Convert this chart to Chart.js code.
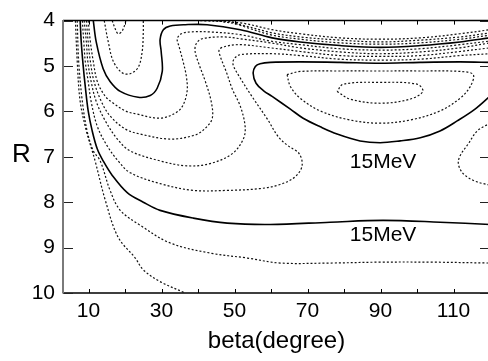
<!DOCTYPE html>
<html>
<head>
<meta charset="utf-8">
<script src="https://cdn.jsdelivr.net/npm/chart.js@4"></script>
<style>
  html, body { margin: 0; padding: 0; background: #fff; overflow: hidden; }
</style>
</head>
<body>
<canvas id="myChart" width="492" height="361"></canvas>
<script>
// axis ticks
const xTicks = [10, 20, 30, 40, 50, 60, 70, 80, 90, 100, 110];
const xLabeled = [10, 30, 50, 70, 90, 110];
const yTicks = [4, 5, 6, 7, 8, 9, 10];

// contour lines, [beta, R]
const solidLow = [[7.7,4.0],[8.0,4.47],[8.5,4.97],[9.1,5.45],[9.9,5.99],[11.0,6.43],[12.4,6.83],[14.0,7.09],[16.5,7.41],[20.6,7.79],[25.0,8.0],[29.6,8.18],[38.7,8.35],[48.0,8.46],[59.8,8.49],[76.2,8.44],[90.7,8.40],[106.3,8.44],[120,8.49]];
const solidTop = [[11.3,4.0],[12.1,4.47],[14.0,5.06],[15.9,5.34],[18.7,5.56],[23.6,5.69],[26.9,5.65],[28.8,5.49],[30.2,5.12],[29.9,4.68],[29.6,4.42],[30.5,4.20],[32.4,4.12],[36.5,4.09],[42.5,4.09],[51.6,4.20],[60.3,4.38],[68.0,4.47],[78.9,4.55],[89.9,4.59],[100.9,4.55],[111.8,4.47],[120,4.38]];
const solidLobe = [[120.6,4.92],[111.8,4.91],[100.9,4.92],[89.9,4.94],[78.9,4.92],[68.0,4.91],[59.8,4.92],[57.0,4.95],[55.7,5.01],[55.1,5.16],[55.9,5.38],[57.9,5.54],[60.3,5.67],[65.3,5.95],[68.8,6.15],[73.5,6.34],[78.1,6.50],[84.4,6.65],[89.9,6.69],[95.4,6.65],[100.9,6.58],[106.3,6.43],[111.0,6.21],[115.9,5.95],[120.6,5.62]];

const dotB1 = [[6.9,4.0],[7.3,4.90],[8.3,5.78],[9.6,6.43],[11.3,6.87],[13.2,7.09],[15.9,7.74],[18.7,8.18],[24.2,8.51],[32.4,8.90],[43.3,9.12],[53.5,9.23],[62.5,9.34],[76.2,9.34],[89.9,9.32],[103.6,9.32],[120,9.34]];
const dotB2 = [[6.4,4.0],[6.9,4.90],[7.7,5.78],[9.4,6.43],[11.0,6.87],[11.8,7.09],[14.6,7.96],[18.1,8.77],[22.8,9.23],[25.0,9.49],[29.6,9.75],[36.5,10.0]];
const dotD4 = [[8.3,4.0],[8.7,4.47],[9.1,4.90],[9.9,5.34],[10.7,5.78],[12.4,6.33],[15.1,6.76],[18.1,7.09],[21.4,7.35],[29.6,7.59],[38.7,7.74],[48.0,7.74],[57.0,7.70],[62.5,7.61],[66.6,7.44],[68.5,7.20],[67.7,6.93],[64.7,6.76],[62.0,6.56],[59.0,6.17],[55.1,5.71],[51.6,5.27],[49.6,4.97],[49.9,4.84],[51.6,4.75],[60.6,4.73],[68.0,4.77],[78.9,4.85],[89.9,4.87],[100.9,4.85],[111.8,4.77],[120,4.73]];
const dotRight = [[121,6.2],[119.5,6.28],[116.5,6.43],[114,6.72],[112,6.95],[111.3,7.12],[112.0,7.30],[113.5,7.43],[116,7.54],[118.1,7.59],[121,7.64]];
const dotD3 = [[8.8,4.0],[9.4,4.47],[9.8,4.90],[10.7,5.34],[12.1,5.78],[14.6,6.21],[17.9,6.61],[21.4,6.87],[29.6,7.09],[37.0,7.20],[43.3,7.15],[49.4,6.93],[52.4,6.61],[52.9,6.33],[51.6,5.89],[49.4,5.51],[47.7,5.12],[46.1,4.79],[45.8,4.64],[47.4,4.57],[51.6,4.53],[59.8,4.60],[68.0,4.68],[78.9,4.77],[89.9,4.79],[100.9,4.77],[111.8,4.68],[120,4.60]];
const dotD2 = [[9.4,4.0],[9.9,4.47],[10.5,4.90],[11.5,5.34],[13.5,5.78],[15.9,6.10],[20.1,6.39],[24.2,6.50],[32.4,6.61],[39.2,6.52],[42.0,6.37],[43.9,6.15],[43.6,5.78],[42.0,5.34],[40.3,4.97],[39.2,4.68],[39.5,4.51],[41.1,4.40],[46.9,4.36],[51.6,4.40],[59.8,4.49],[68.0,4.60],[78.9,4.69],[89.9,4.73],[100.9,4.69],[111.8,4.60],[120,4.49]];
const dotD1 = [[9.9,4.0],[10.5,4.47],[11.3,4.90],[12.4,5.34],[14.6,5.67],[16.8,5.82],[20.1,5.99],[23.3,6.06],[29.6,6.15],[33.7,6.04],[35.7,5.89],[37.0,5.56],[36.8,5.23],[35.9,4.90],[34.8,4.57],[34.3,4.40],[35.4,4.29],[37.9,4.25],[43.3,4.25],[51.6,4.31],[59.8,4.45],[68.0,4.53],[78.9,4.62],[89.9,4.65],[100.9,4.62],[111.8,4.53],[120,4.45]];
const dotU1 = [[14.3,4.0],[15.4,4.47],[16.8,4.90],[19.2,5.15],[21.4,5.17],[23.6,5.03],[24.7,4.68],[25.0,4.25],[25.0,4.0]];
const dotU2 = [[16.5,4.0],[17.3,4.18],[18.1,4.29],[19.2,4.23],[20.3,4.0]];
const dotE1 = [[40.6,4.0],[51.6,4.05],[60.3,4.20],[68.0,4.29],[78.9,4.38],[89.9,4.41],[100.9,4.38],[111.8,4.29],[120,4.20]];
const dotE2 = [[44.7,4.0],[51.6,4.09],[60.3,4.27],[68.0,4.36],[78.9,4.43],[89.9,4.47],[100.9,4.43],[111.8,4.36],[120,4.27]];
const dotE3 = [[48.3,4.0],[52.9,4.14],[60.3,4.32],[68.0,4.41],[78.9,4.49],[89.9,4.52],[100.9,4.49],[111.8,4.41],[120,4.32]];
const dotOval = [[64.4,5.19],[65.3,5.45],[68.0,5.71],[73.5,5.99],[81.7,6.19],[89.9,6.26],[98.1,6.19],[106.3,5.99],[111.8,5.71],[114.6,5.45],[115.4,5.19],[111.8,5.12],[100.9,5.11],[89.9,5.11],[78.9,5.11],[68.0,5.12],[64.4,5.19]];
const dotInner = [[78.1,5.56],[81.7,5.73],[89.9,5.82],[98.1,5.73],[101.6,5.56],[100.0,5.40],[89.9,5.36],[79.8,5.40],[78.1,5.56]];

// contour labels
const noteText = ['15MeV', '15MeV'];
const noteBeta = [90.7, 90.7];
const noteR = [7.24, 8.86];

const FONT = '"Liberation Sans", Arial, Helvetica, sans-serif';

const solids = [solidLow, solidTop, solidLobe];
const dots = [dotB1, dotB2, dotD4, dotRight, dotD3, dotD2, dotD1, dotU1, dotU2, dotE1, dotE2, dotE3, dotOval, dotInner];

const toPts = arr => arr.map(p => ({x: p[0], y: p[1]}));
const datasets = [];
solids.forEach(s => datasets.push({
  data: toPts(s), showLine: true, pointRadius: 0, borderColor: '#000',
  borderWidth: 1.6, tension: 0.35, fill: false
}));
dots.forEach(s => datasets.push({
  data: toPts(s), showLine: true, pointRadius: 0, borderColor: '#111',
  borderWidth: 1.2, borderDash: [2, 2], tension: 0.35, fill: false
}));

const framePlugin = {
  id: 'frame',
  afterDatasetsDraw(chart) {
    const {ctx, chartArea: a, scales: {x, y}} = chart;
    ctx.save();
    // contour labels
    ctx.fillStyle = '#000';
    ctx.font = '21px ' + FONT;
    ctx.textAlign = 'center';
    ctx.textBaseline = 'alphabetic';
    for (let i = 0; i < noteText.length; i++) {
      ctx.fillText(noteText[i], x.getPixelForValue(noteBeta[i]), y.getPixelForValue(noteR[i]));
    }
    // R title (horizontal)
    ctx.font = '26px ' + FONT;
    ctx.fillText('R', 21.5, y.getPixelForValue(7) + 5);

    // box
    ctx.strokeStyle = '#000';
    ctx.lineWidth = 1.5;
    ctx.beginPath();
    ctx.moveTo(a.left, a.top); ctx.lineTo(a.right, a.top);
    ctx.moveTo(a.left, a.bottom); ctx.lineTo(a.right, a.bottom);
    ctx.moveTo(a.right, a.top); ctx.lineTo(a.right, a.bottom);
    ctx.stroke();
    // x ticks, bottom and top
    ctx.lineWidth = 1;
    ctx.beginPath();
    xTicks.forEach(v => {
      const px = Math.round(x.getPixelForValue(v)) + 0.5;
      ctx.moveTo(px, a.bottom); ctx.lineTo(px, a.bottom - 4);
      ctx.moveTo(px, a.top); ctx.lineTo(px, a.top + 4);
    });
    ctx.stroke();
    // y ticks, left and right
    ctx.strokeStyle = '#222';
    ctx.beginPath();
    yTicks.forEach(v => {
      const py = Math.round(y.getPixelForValue(v)) + 0.5;
      ctx.moveTo(a.left, py); ctx.lineTo(a.left + 10, py);
      ctx.moveTo(a.right, py); ctx.lineTo(a.right - 10, py);
    });
    ctx.stroke();
    // left axis is grey
    ctx.strokeStyle = '#7a7a7a';
    ctx.lineWidth = 2;
    ctx.beginPath();
    ctx.moveTo(a.left, a.top - 0.5); ctx.lineTo(a.left, a.bottom + 0.5);
    ctx.stroke();
    ctx.restore();
  }
};

new Chart('myChart', {
  type: 'scatter',
  data: {datasets: datasets},
  options: {
    responsive: false,
    animation: false,
    layout: {padding: {top: 19, right: 2, left: 0, bottom: 0}},
    plugins: {legend: {display: false}, tooltip: {enabled: false}},
    scales: {
      x: {
        type: 'linear', min: 3, max: 120,
        afterBuildTicks: s => { s.ticks = xTicks.map(v => ({value: v})); },
        afterFit: s => { s.height = 68; },
        grid: {display: false, drawTicks: false},
        border: {display: false},
        ticks: {
          autoSkip: false, maxRotation: 0, padding: 6, color: '#000',
          font: {family: FONT, size: 21},
          callback: v => xLabeled.includes(v) ? String(v) : ''
        },
        title: {
          display: true, text: 'beta(degree)', color: '#000',
          font: {family: FONT, size: 24}, padding: {top: 0, bottom: 5}
        }
      },
      y: {
        type: 'linear', min: 4, max: 10, reverse: true,
        afterBuildTicks: s => { s.ticks = yTicks.map(v => ({value: v})); },
        afterFit: s => { s.width = 63; },
        grid: {display: false, drawTicks: false},
        border: {display: false},
        ticks: {padding: 8, color: '#000', font: {family: FONT, size: 21}}
      }
    }
  },
  plugins: [framePlugin]
});
</script>
</body>
</html>
